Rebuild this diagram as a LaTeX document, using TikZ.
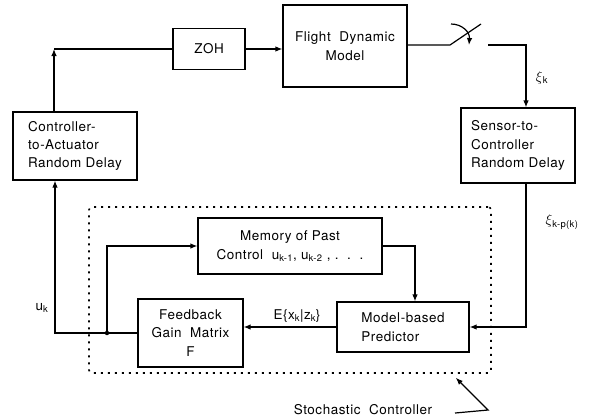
\documentclass[tikz,border=0pt]{standalone}
\usepackage{fontspec}
\setmainfont{TeX Gyre Heros}[LetterSpace=4]
\usetikzlibrary{arrows.meta,positioning,calc}

\begin{document}
\begin{tikzpicture}[x=1bp,y=-1bp,>={Latex[length=7bp,width=5.5bp]},font=\fontsize{13.5}{18.5}\selectfont,
 block/.style={draw,line width=1.2bp,inner sep=0pt,align=center},
 arr/.style={->,line width=1.2bp},
 ln/.style={line width=1.2bp}]
\useasboundingbox (0,0) rectangle (589,418);
\node[block,minimum width=72bp,minimum height=41bp] (zoh) at (209,49) {ZOH};
\node[block,minimum width=124bp,minimum height=82bp] (fdm) at (345,46) {Flight\ \ Dynamic\\Model};
\node[block,align=left,minimum width=124bp,minimum height=68bp] (cta) at (75,146) {Controller-\\to-Actuator\\Random Delay};
\node[block,align=left,minimum width=114bp,minimum height=75bp] (stc) at (518,145.5) {Sensor-to-\\Controller\\Random Delay};
\node[block,minimum width=184bp,minimum height=56bp] (mem) at (290,246) {Memory of Past\\Control\ \ u\textsubscript{k-1}, u\textsubscript{k-2} , .\ \ .\ \ .};
\node[block,minimum width=105bp,minimum height=68bp] (fgm) at (190.5,333) {Feedback\\Gain\ \ Matrix\\F};
\node[block,align=left,minimum width=132bp,minimum height=50bp] (mbp) at (403,327) {Model-based\\Predictor};
\node[draw,line width=1.6bp,dash pattern=on 2bp off 5bp,rounded corners=3bp,minimum width=402bp,minimum height=166bp] (sc) at (290,290) {};
% forward path
\coordinate (cor) at (54,49);
\draw[arr] (cta.north -| cor) -- (cor);
\draw[ln] (cor) -- (zoh.west);
\draw[arr] (zoh.east) -- (fdm.west |- zoh.east);
% sampler
\coordinate (swa) at (450,45);\coordinate (swb) at (481,24);
\coordinate (arcs) at (451,24);\coordinate (arce) at (469,45);
\coordinate (swc) at (488,45);\coordinate (sense) at (526,45);
\draw[ln] (fdm.east |- swa) -- (swa) -- (swb);
\draw[arr] (arcs) .. controls (462,24) and (470,32) .. (arce);
\draw[arr] (swc) -- (sense) -- (stc.north -| sense);
\node (xik) at (542,78) {$\xi$\textsubscript{k}};
\draw[arr] (stc.south -| sense) |- (mbp.east);
\node (xikp) at (562,222) {$\xi$\textsubscript{k-p(k)}};
% controller
\draw[arr] (mem.east) -| ([xshift=12bp]mbp.north);
\draw[arr] (mbp.west) -- (mbp.west -| fgm.east);
\node (exz) at (297,316) {E\{x\textsubscript{k}|z\textsubscript{k}\}};
\coordinate (uk) at (55,333);\coordinate (jn) at (107,333);
\draw[arr] (fgm.west) -- (uk) -- (uk |- cta.south);
\fill (jn) circle (2.2bp);
\draw[arr] (jn) |- (mem.west);
\node (uklab) at (42,308) {u\textsubscript{k}};
\node (sclab) at (363,410) {Stochastic\ \ Controller};
\coordinate (ldrs) at (455,413);\coordinate (ldr) at (488,410);
\draw[arr] (ldrs) -- (ldr) -- ($(sc.south east)+(-36,4)$);
\end{tikzpicture}
\end{document}
